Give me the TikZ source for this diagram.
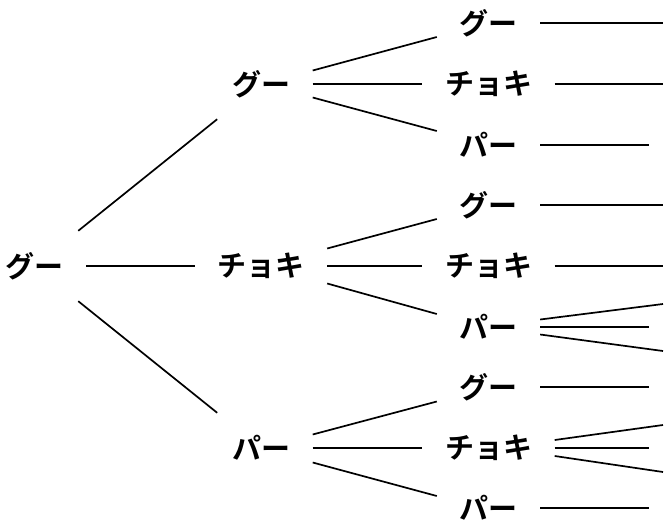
\documentclass[tikz,border=0pt]{standalone}
\usepackage{fontspec}
\newfontfamily\jp{Noto Sans CJK JP Bold}
\begin{document}
\begin{tikzpicture}[x=1pt,y=-1pt,
  lbl/.style={font=\jp\fontsize{29}{29}\selectfont, inner xsep=22.5pt, inner ysep=0pt, minimum height=70pt, anchor=center},
  edge/.style={line width=1.7pt}]
\useasboundingbox (0,0) rectangle (665,520);
% nodes
\node[lbl] (r) at (34.5,266) {グー};
\node[lbl] (g) at (261,84) {グー};
\node[lbl] (c) at (261,266) {チョキ};
\node[lbl] (p) at (261,448) {パー};
\node[lbl] (gg) at (488.5,23) {グー};
\node[lbl] (gc) at (488.5,84) {チョキ};
\node[lbl] (gp) at (488.5,145) {パー};
\node[lbl] (cg) at (488.5,205) {グー};
\node[lbl] (cc) at (488.5,266) {チョキ};
\node[lbl] (cp) at (488.5,327) {パー};
\node[lbl] (pg) at (488.5,387) {グー};
\node[lbl] (pc) at (488.5,448) {チョキ};
\node[lbl] (pp) at (488.5,508) {パー};
% leaf ends
\coordinate (e1) at (663,23);
\coordinate (e2) at (663,84);
\coordinate (e3) at (649,145);
\coordinate (e4) at (663,205);
\coordinate (e5) at (663,266);
\coordinate (e6a) at (663,304);
\coordinate (e6b) at (649,327);
\coordinate (e6c) at (663,351);
\coordinate (e7) at (649,387);
\coordinate (e8a) at (663,425);
\coordinate (e8b) at (649,448);
\coordinate (e8c) at (663,472);
\coordinate (e9) at (649,508);
% root edges
\draw[edge] (r) -- (g);
\draw[edge] (r) -- (c);
\draw[edge] (r) -- (p);
% level 2 edges
\draw[edge] ([yshift=13.5pt]g.east) -- ([yshift=-14pt]gg.west);
\draw[edge] (g.east) -- (gc.west);
\draw[edge] ([yshift=-13.5pt]g.east) -- ([yshift=14pt]gp.west);
\draw[edge] ([yshift=17.5pt]c.east) -- ([yshift=-14pt]cg.west);
\draw[edge] (c.east) -- (cc.west);
\draw[edge] ([yshift=-17.5pt]c.east) -- ([yshift=13pt]cp.west);
\draw[edge] ([yshift=13.5pt]p.east) -- ([yshift=-14.5pt]pg.west);
\draw[edge] (p.east) -- (pc.west);
\draw[edge] ([yshift=-14.5pt]p.east) -- ([yshift=12pt]pp.west);
% leaf edges
\draw[edge] (gg.east) -- (e1);
\draw[edge] (gc.east) -- (e2);
\draw[edge] (gp.east) -- (e3);
\draw[edge] (cg.east) -- (e4);
\draw[edge] (cc.east) -- (e5);
\draw[edge] ([yshift=7.5pt]cp.east) -- (e6a);
\draw[edge] (cp.east) -- (e6b);
\draw[edge] ([yshift=-7.5pt]cp.east) -- (e6c);
\draw[edge] (pg.east) -- (e7);
\draw[edge] ([yshift=8pt]pc.east) -- (e8a);
\draw[edge] (pc.east) -- (e8b);
\draw[edge] ([yshift=-8pt]pc.east) -- (e8c);
\draw[edge] (pp.east) -- (e9);
\end{tikzpicture}
\end{document}
